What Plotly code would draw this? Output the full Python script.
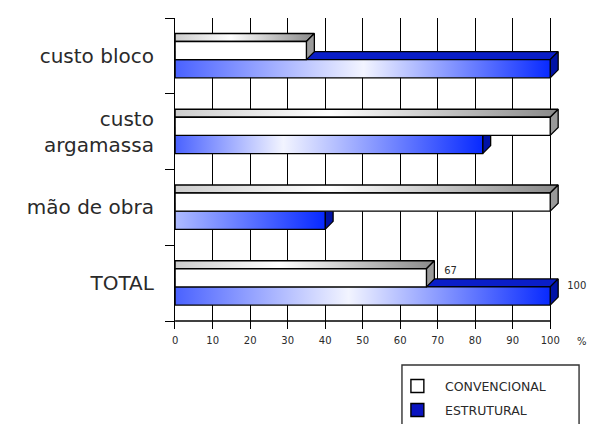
import plotly.graph_objects as go

# ---- data -------------------------------------------------------------
categories = ["custo bloco", "custo<br>argamassa", "mão de obra", "TOTAL"]
series_names = ["CONVENCIONAL", "ESTRUTURAL"]
convencional = [35, 100, 100, 67]
estrutural = [100, 82, 40, 100]
x_ticks = [0, 10, 20, 30, 40, 50, 60, 70, 80, 90, 100]
labelled_category = "TOTAL"

# ---- page geometry ----------------------------------------------------
W, H = 591, 424
X0_PX, X100_PX = 173, 550          # pixel columns of 0 % and 100 %
PX_PER_X = (X100_PX - X0_PX) / 100.0
Y_TOP_PX, Y_AXIS_PX = 18, 321       # top of the bands, baseline
N = len(categories)
PX_PER_Y = (Y_AXIS_PX - Y_TOP_PX) / N
TICK_PX = 8                         # grid lines run past the baseline as ticks

x_max = (W - X0_PX) / PX_PER_X
y_min = -TICK_PX / PX_PER_Y
y_bottom_px = Y_AXIS_PX + TICK_PX

# 3-D depth of the bars, in axis units
DEPTH_PX = 8
DX = DEPTH_PX / PX_PER_X
DY = DEPTH_PX / PX_PER_Y

# vertical slots inside one band (fraction of the band, measured from its top)
CONV_TOP, SPLIT, EST_BOTTOM = 0.31, 0.55, 0.79

# ---- styles -----------------------------------------------------------
EDGE = dict(color="black", width=1.3)
GRAY_TOP = [[0, "#cdcdcd"], [0.4, "#ffffff"], [1, "#888888"]]
GRAY_SIDE = "#9a9a9a"
BLUE_TOP = "#0a1ec8"
BLUE_SIDE = "#0012a6"
BLUE_LEFT, BLUE_LIGHT, BLUE_RIGHT = "#4a62ff", "#f2f4ff", "#0628ff"
blue_highlight = [0.5, 0.35, 0.0, 0.46]   # where the sheen sits on each blue bar
FONT = "DejaVu Sans"
TEXT = "#2a2a2a"

fig = go.Figure()


def poly(xs, ys, **kw):
    fig.add_trace(go.Scatter(
        x=xs + [xs[0]], y=ys + [ys[0]], mode="lines", fill="toself",
        line=EDGE, hoverinfo="skip", showlegend=False, **kw))


def bar3d(v, yt, yb, front, top, side):
    """Front face, top face and end face of one extruded bar."""
    poly([0, v, v + DX, 0], [yt, yt, yt + DY, yt + DY], **top)
    poly([v, v + DX, v + DX, v], [yt, yt + DY, yb + DY, yb], **side)
    poly([0, v, v, 0], [yt, yt, yb, yb], **front)


for i, cat in enumerate(categories):
    band_top = N - i
    yc_t = band_top - CONV_TOP
    ys = band_top - SPLIT
    ye_b = band_top - EST_BOTTOM

    # structural (blue) bar first: the conventional bar sits in front of its top
    h = blue_highlight[i]
    if h <= 0:
        scale = [[0, "#aebbff"], [1, BLUE_RIGHT]]
    else:
        scale = [[0, BLUE_LEFT], [h, BLUE_LIGHT], [1, BLUE_RIGHT]]
    v = estrutural[i]
    bar3d(v, ys, ye_b,
          front=dict(fillgradient=dict(type="horizontal", colorscale=scale,
                                       start=0, stop=v)),
          top=dict(fillcolor=BLUE_TOP),
          side=dict(fillcolor=BLUE_SIDE))

    v = convencional[i]
    bar3d(v, yc_t, ys,
          front=dict(fillcolor="white"),
          top=dict(fillgradient=dict(type="horizontal", colorscale=GRAY_TOP,
                                     start=0, stop=v + DX)),
          side=dict(fillcolor=GRAY_SIDE))

    if cat == labelled_category:
        fig.add_trace(go.Scatter(
            x=[convencional[i] + DX + 2.6, estrutural[i] + DX + 2.4],
            y=[yc_t - 0.03, ys],
            text=[str(convencional[i]), str(estrutural[i])],
            mode="text", textposition="middle right", cliponaxis=False,
            textfont=dict(family=FONT, size=10, color=TEXT),
            hoverinfo="skip", showlegend=False))

# baseline of the value axis, from 0 to 100 %
fig.add_trace(go.Scatter(x=[x_ticks[0], x_ticks[-1]], y=[0, 0], mode="lines",
                         line=dict(color="black", width=1.4),
                         hoverinfo="skip", showlegend=False))

fig.update_layout(
    width=W, height=H,
    margin=dict(l=0, r=0, t=0, b=0),
    paper_bgcolor="white", plot_bgcolor="white",
    showlegend=False,
    xaxis=dict(
        domain=[X0_PX / W, 1.0], range=[0, x_max],
        tickmode="array", tickvals=x_ticks, ticktext=[str(t) for t in x_ticks],
        ticks="", showgrid=True, gridcolor="black", gridwidth=1.4,
        zeroline=False, showline=False, ticklabelstandoff=4,
        tickfont=dict(family=FONT, size=10, color=TEXT),
        fixedrange=True,
    ),
    yaxis=dict(
        domain=[(H - y_bottom_px) / H, (H - Y_TOP_PX) / H], range=[y_min, N],
        tickmode="array", tickvals=[N - i - 0.5 for i in range(N)],
        ticktext=categories, ticks="", showgrid=False, zeroline=False,
        showline=True, linecolor="black", linewidth=1.4,
        ticklabelstandoff=16,
        tickfont=dict(family=FONT, size=20, color=TEXT),
        minor=dict(tickmode="array", tickvals=list(range(N + 1)),
                   ticks="outside", ticklen=9, tickcolor="black", tickwidth=1.4,
                   showgrid=False),
        fixedrange=True,
    ),
)

# unit of the value axis
fig.add_annotation(x=108.6, xref="x", y=(H - 341) / H, yref="paper",
                   yanchor="middle", text="%", showarrow=False,
                   font=dict(family=FONT, size=10, color=TEXT))

# legend box (its lower edge runs off the page)
fig.add_shape(type="rect", xref="paper", yref="paper",
              x0=401 / W, x1=579 / W, y0=-0.1, y1=(H - 365) / H,
              line=dict(color="#333333", width=1.4), fillcolor="white")
legend_fill = ["white", "#0a14c0"]
for k, name in enumerate(series_names):
    yc = 386 + k * 24
    fig.add_shape(type="rect", xref="paper", yref="paper",
                  x0=410 / W, x1=423 / W,
                  y0=(H - yc - 6.5) / H, y1=(H - yc + 6.5) / H,
                  line=dict(color="black", width=1.4), fillcolor=legend_fill[k])
    fig.add_annotation(x=442 / W, xref="paper", y=(H - yc) / H, yref="paper",
                       yanchor="middle", text=name, showarrow=False,
                       xanchor="left",
                       font=dict(family=FONT, size=12.5, color=TEXT))

fig.write_html("out.html")
